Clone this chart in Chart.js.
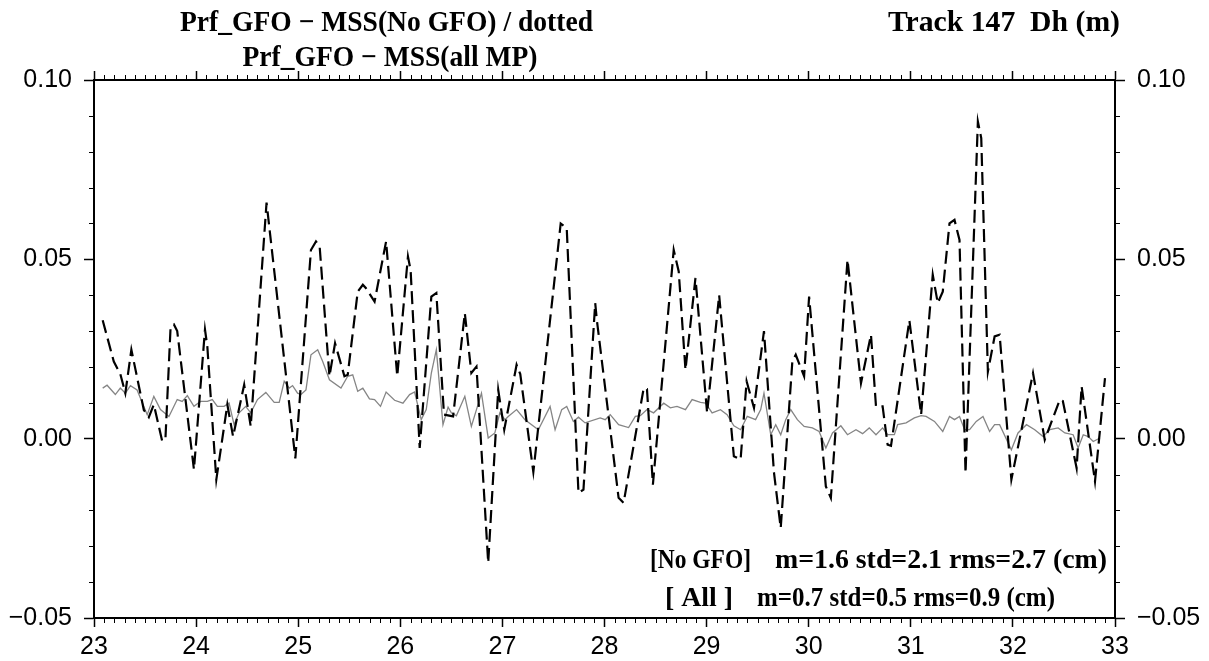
<!DOCTYPE html>
<html lang="en">
<head>
    <meta charset="UTF-8">
    <title>Track 147 Dh (m)</title>
    <script src="https://cdn.jsdelivr.net/npm/chart.js"></script>
    <style>
        html, body { margin: 0; padding: 0; background: #fff; }
        canvas { display: block; }
    </style>
</head>
<body>
    <canvas id="dhChart" width="1209" height="661"></canvas>
    <script>
        // Prf_GFO - MSS(No GFO), dashed curve (distance, m)
        const noGfoX = [
            23.085, 23.194, 23.258, 23.307, 23.366, 23.488, 23.537, 23.586, 23.668, 23.700,
            23.750, 23.783, 23.815, 23.979, 24.087, 24.110, 24.198, 24.306, 24.362, 24.471,
            24.535, 24.690, 24.972, 25.125, 25.174, 25.210, 25.306, 25.361, 25.453, 25.485,
            25.583, 25.633, 25.662, 25.748, 25.861, 25.970, 26.075, 26.101, 26.190, 26.304,
            26.353, 26.428, 26.517, 26.632, 26.696, 26.746, 26.861, 26.959, 27.018, 27.139,
            27.175, 27.303, 27.571, 27.630, 27.745, 27.794, 27.909, 27.925, 28.138, 28.187,
            28.384, 28.416, 28.474, 28.678, 28.727, 28.793, 28.891, 29.005, 29.123, 29.267,
            29.333, 29.392, 29.464, 29.562, 29.660, 29.726, 29.840, 29.873, 29.955, 30.004,
            30.168, 30.217, 30.380, 30.512, 30.610, 30.659, 30.724, 30.773, 30.806, 30.986,
            31.101, 31.215, 31.264, 31.313, 31.379, 31.428, 31.477, 31.536, 31.657, 31.690,
            31.755, 31.821, 31.870, 31.985, 32.197, 32.312, 32.460, 32.489, 32.624, 32.673,
            32.804, 32.902
        ];
        const noGfoY = [
            0.033, 0.0215, 0.018, 0.0127, 0.0248, 0.008, 0.006, 0.0095, -0.0007, 0.0002,
            0.031, 0.0318, 0.030, -0.0086, 0.0304, 0.0257, -0.0114, 0.0095, 0.0006, 0.015,
            0.0034, 0.0658, -0.0055, 0.0526, 0.055, 0.0536, 0.0174, 0.0266, 0.0174, 0.0178,
            0.041, 0.0429, 0.042, 0.0382, 0.055, 0.0174, 0.0508, 0.047, -0.0026, 0.0396,
            0.0406, 0.0067, 0.0062, 0.035, 0.0183, 0.0201, -0.0346, 0.0136, 0.0025, 0.0206,
            0.018, -0.0093, 0.060, 0.0587, -0.0151, -0.0142, 0.0378, 0.0331, -0.0165, -0.0179,
            0.0141, 0.0138, -0.0128, 0.0526, 0.0466, 0.0192, 0.0448, 0.0072, 0.040, -0.0049,
            -0.0058, 0.016, 0.0086, 0.030, -0.0095, -0.0249, 0.0216, 0.0234, 0.0174, 0.0396,
            -0.0133, -0.0165, 0.0499, 0.0155, 0.029, 0.009, 0.009, -0.0017, -0.002, 0.033,
            0.0067, 0.0457, 0.0378, 0.041, 0.060, 0.061, 0.0554, -0.0096, 0.0884, 0.0838,
            0.0187, 0.0285, 0.029, -0.0114, 0.0183, -0.0003, 0.0109, 0.0105, -0.0082, 0.0146,
            -0.0119, 0.0169
        ];

        // Prf_GFO - MSS(all MP), thin grey curve
        const allMpX = [
            23.085, 23.128, 23.209, 23.258, 23.307, 23.357, 23.422, 23.521, 23.586, 23.651,
            23.734, 23.815, 23.864, 23.914, 23.979, 24.044, 24.110, 24.159, 24.208, 24.274,
            24.323, 24.372, 24.421, 24.486, 24.535, 24.601, 24.683, 24.765, 24.814, 24.863,
            24.913, 24.945, 24.994, 25.027, 25.076, 25.125, 25.191, 25.240, 25.306, 25.419,
            25.485, 25.534, 25.583, 25.633, 25.698, 25.748, 25.806, 25.861, 25.944, 26.026,
            26.091, 26.140, 26.205, 26.254, 26.304, 26.353, 26.418, 26.468, 26.500, 26.549,
            26.632, 26.696, 26.795, 26.861, 26.926, 26.975, 27.025, 27.057, 27.139, 27.221,
            27.352, 27.467, 27.516, 27.581, 27.630, 27.695, 27.745, 27.810, 27.958, 28.007,
            28.056, 28.138, 28.236, 28.302, 28.351, 28.416, 28.481, 28.580, 28.645, 28.710,
            28.793, 28.858, 28.940, 28.989, 29.054, 29.136, 29.201, 29.267, 29.333, 29.398,
            29.480, 29.530, 29.562, 29.628, 29.677, 29.726, 29.775, 29.824, 29.889, 29.955,
            30.036, 30.102, 30.168, 30.233, 30.315, 30.380, 30.463, 30.528, 30.593, 30.659,
            30.724, 30.773, 30.839, 30.871, 30.954, 31.035, 31.101, 31.150, 31.232, 31.313,
            31.379, 31.428, 31.477, 31.527, 31.576, 31.641, 31.707, 31.772, 31.821, 31.870,
            31.985, 32.050, 32.133, 32.214, 32.296, 32.361, 32.443, 32.509, 32.590, 32.639,
            32.689, 32.738, 32.787, 32.853
        ];
        const allMpY = [
            0.0141, 0.0149, 0.0123, 0.0141, 0.0127, 0.0148, 0.0136, 0.0067, 0.0118, 0.0081,
            0.0062, 0.0109, 0.0104, 0.012, 0.009, 0.0104, 0.0104, 0.0109, 0.009, 0.009,
            0.0099, 0.0039, 0.0072, 0.009, 0.0072, 0.0109, 0.0129, 0.0101, 0.0101, 0.016,
            0.0141, 0.0148, 0.0127, 0.0123, 0.0136, 0.0234, 0.0248, 0.0215, 0.0164, 0.0141,
            0.0174, 0.0178, 0.0132, 0.0141, 0.0111, 0.0109, 0.009, 0.013, 0.0107, 0.0099,
            0.0123, 0.013, 0.0053, 0.0081, 0.0183, 0.0248, 0.0039, 0.0088, 0.0072, 0.0064,
            0.0118, 0.0034, 0.0127, 0.0002, 0.0016, 0.0072, 0.0053, 0.0062, 0.0081, 0.0053,
            0.0025, 0.009, 0.0025, 0.0081, 0.009, 0.0048, 0.006, 0.0044, 0.0058, 0.0053,
            0.0067, 0.0039, 0.0031, 0.0062, 0.0064, 0.0081, 0.0072, 0.0099, 0.0086, 0.009,
            0.0081, 0.0109, 0.0101, 0.0099, 0.0072, 0.0081, 0.0067, 0.0036, 0.0025, 0.0062,
            0.0053, 0.0081, 0.0127, 0.0011, 0.0039, 0.0011, 0.0053, 0.0081, 0.0053, 0.0034,
            0.003, 0.002, -0.0026, 0.0016, 0.0036, 0.0011, 0.0025, 0.0014, 0.003, 0.0011,
            0.003, 0.0011, 0.0011, 0.0039, 0.0044, 0.0058, 0.0064, 0.0062, 0.0048, 0.002,
            0.0062, 0.0053, 0.0062, 0.0025, 0.0025, 0.0048, 0.0062, 0.002, 0.0039, 0.0039,
            -0.0031, 0.0016, 0.0039, 0.0025, 0.0006, 0.0025, 0.003, 0.0016, 0.0011, -0.0026,
            0.0011, 0.0006, -0.0008, 0.0002
        ];

        const xTicks = [23, 24, 25, 26, 27, 28, 29, 30, 31, 32, 33];
        const yTicks = [-0.05, 0.00, 0.05, 0.10];

        const titleLine1 = 'Prf_GFO \u2212 MSS(No GFO) / dotted';
        const titleLine2 = 'Prf_GFO \u2212 MSS(all MP)';
        const trackLabel = 'Track 147  Dh (m)';
        const statsNoGfo = ['[No GFO]', 'm=1.6 std=2.1 rms=2.7 (cm)'];
        const statsAll = ['[ All ]', 'm=0.7 std=0.5 rms=0.9 (cm)'];

        const titleFont = 'bold 29px "Liberation Serif", "Times New Roman", serif';
        const statsFont = 'bold 27px "Liberation Serif", "Times New Roman", serif';

        function fmtY(v) {
            if (Math.abs(v) < 1e-9) return '0.00';
            return (v < 0 ? '\u2212' : '') + Math.abs(v).toFixed(2);
        }

        // draw text squeezed/stretched to a given width (GMT fonts look condensed)
        function fitText(ctx, text, x, y, width) {
            const w = ctx.measureText(text).width;
            ctx.save();
            ctx.translate(x, y);
            ctx.scale(width / w, 1);
            ctx.fillText(text, 0, 0);
            ctx.restore();
        }

        // minor ticks all round the frame, plus the text blocks
        const framePlugin = {
            id: 'frame',
            afterDraw(chart) {
                const ctx = chart.ctx;
                const a = chart.chartArea;
                const xs = chart.scales.x;
                const ys = chart.scales.y;
                ctx.save();
                ctx.strokeStyle = '#000';
                ctx.lineWidth = 1;
                ctx.beginPath();
                for (let i = 1; i < 100; i++) {
                    if (i % 10 === 0) continue;
                    const px = Math.round(xs.getPixelForValue(23 + i / 10)) + 0.5;
                    ctx.moveTo(px, a.bottom); ctx.lineTo(px, a.bottom + 5);
                    ctx.moveTo(px, a.top); ctx.lineTo(px, a.top - 5);
                }
                for (let i = -4; i < 10; i++) {
                    if (i % 5 === 0) continue;
                    const py = Math.round(ys.getPixelForValue(i / 100)) + 0.5;
                    ctx.moveTo(a.left - 5, py); ctx.lineTo(a.left, py);
                    ctx.moveTo(a.right, py); ctx.lineTo(a.right + 5, py);
                }
                ctx.stroke();

                ctx.fillStyle = '#000';
                ctx.textBaseline = 'alphabetic';
                ctx.textAlign = 'left';
                ctx.font = titleFont;
                // same squeeze for both title lines
                const squeeze = 413 / ctx.measureText(titleLine1).width;
                const w2 = ctx.measureText(titleLine2).width * squeeze;
                fitText(ctx, titleLine1, 180, 31, 413);
                fitText(ctx, titleLine2, 390 - w2 / 2, 66, w2);
                fitText(ctx, trackLabel, 888, 31, 232);
                ctx.font = statsFont;
                fitText(ctx, statsNoGfo[0], 650, 568, 101);
                fitText(ctx, statsNoGfo[1], 775, 568, 332);
                fitText(ctx, statsAll[0], 665, 606, 68);
                fitText(ctx, statsAll[1], 757, 606, 298);
                ctx.restore();
            }
        };

        const tickFont = { family: '"Liberation Sans", Arial, sans-serif', size: 25 };
        const border = { display: true, color: '#000', width: 2 };

        const ctx = document.getElementById('dhChart').getContext('2d');
        new Chart(ctx, {
            type: 'line',
            data: {
                datasets: [
                    {
                        label: 'No GFO',
                        data: noGfoX.map((x, i) => ({ x: x, y: noGfoY[i] })),
                        borderColor: '#000',
                        borderWidth: 2.2,
                        borderDash: [13, 6],
                        pointRadius: 0,
                        tension: 0,
                        fill: false
                    },
                    {
                        label: 'all MP',
                        data: allMpX.map((x, i) => ({ x: x, y: allMpY[i] })),
                        borderColor: '#858585',
                        borderWidth: 1.3,
                        pointRadius: 0,
                        tension: 0,
                        fill: false
                    }
                ]
            },
            options: {
                responsive: false,
                animation: false,
                layout: { padding: 0 },
                plugins: {
                    legend: { display: false },
                    tooltip: { enabled: false },
                    title: { display: false }
                },
                scales: {
                    x: {
                        type: 'linear', position: 'bottom', min: 23, max: 33,
                        afterBuildTicks: s => { s.ticks = xTicks.map(v => ({ value: v })); },
                        afterFit: s => { s.height = 43; },
                        ticks: { color: '#000', font: tickFont, padding: 5, maxRotation: 0 },
                        grid: { drawOnChartArea: false, tickLength: 9, tickColor: '#000', tickWidth: 1.5 },
                        border: border
                    },
                    x2: {
                        type: 'linear', position: 'top', min: 23, max: 33,
                        afterBuildTicks: s => { s.ticks = xTicks.map(v => ({ value: v })); },
                        afterFit: s => { s.height = 80; },
                        ticks: { display: false },
                        grid: { drawOnChartArea: false, tickLength: 9, tickColor: '#000', tickWidth: 1.5 },
                        border: border
                    },
                    y: {
                        type: 'linear', position: 'left', min: -0.05, max: 0.10,
                        afterBuildTicks: s => { s.ticks = yTicks.map(v => ({ value: v })); },
                        afterFit: s => { s.width = 94; },
                        ticks: { color: '#000', font: tickFont, padding: 12, callback: fmtY },
                        grid: { drawOnChartArea: false, tickLength: 10, tickColor: '#000', tickWidth: 1.5 },
                        border: border
                    },
                    y2: {
                        type: 'linear', position: 'right', min: -0.05, max: 0.10,
                        afterBuildTicks: s => { s.ticks = yTicks.map(v => ({ value: v })); },
                        afterFit: s => { s.width = 94; },
                        ticks: { color: '#000', font: tickFont, padding: 12, callback: fmtY },
                        grid: { drawOnChartArea: false, tickLength: 10, tickColor: '#000', tickWidth: 1.5 },
                        border: border
                    }
                }
            },
            plugins: [framePlugin]
        });
    </script>
</body>
</html>
